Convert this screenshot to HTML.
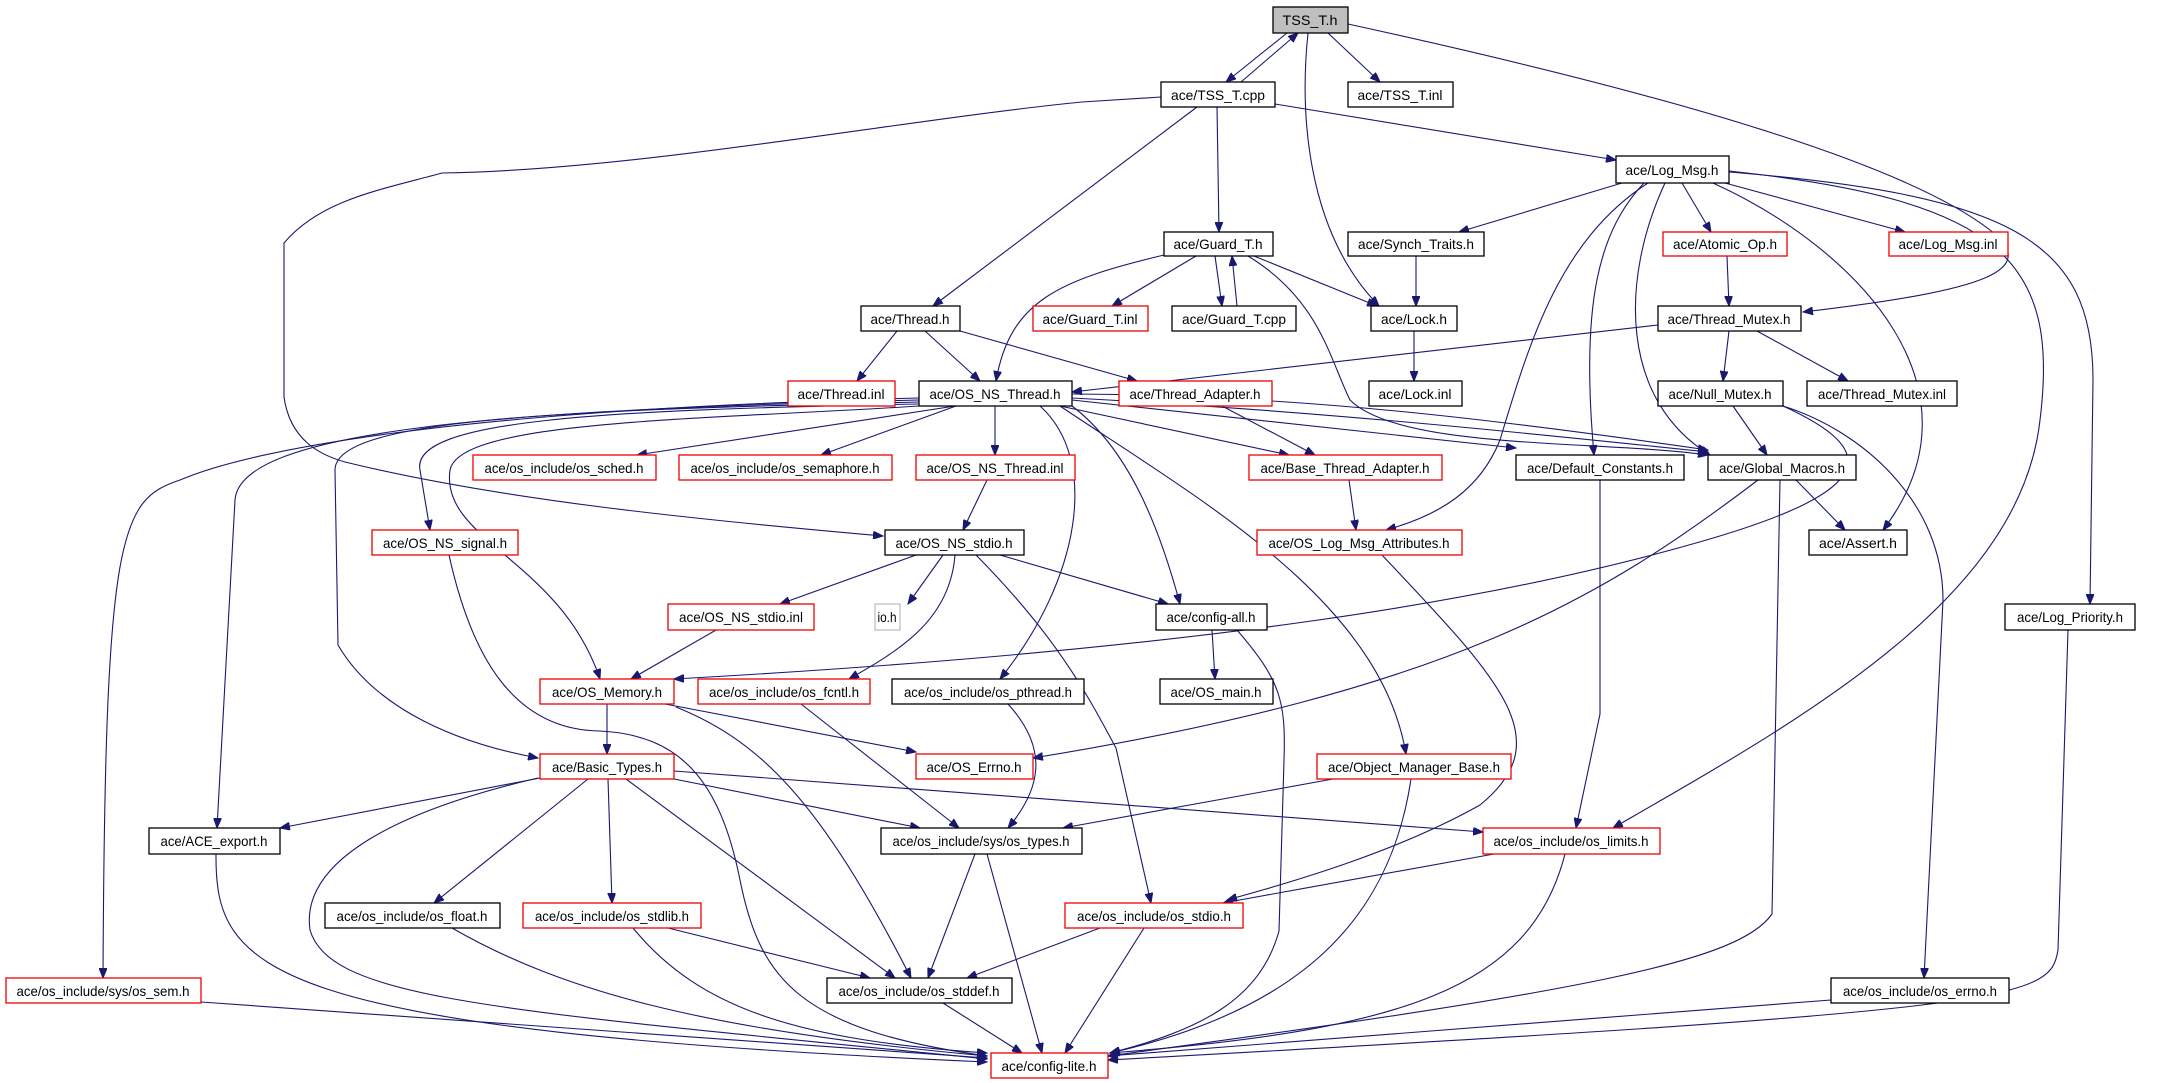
<!DOCTYPE html>
<html><head><meta charset="utf-8"><style>
html,body{margin:0;padding:0;background:#fff;}
svg{display:block;}
text{font-family:"Liberation Sans",sans-serif;font-size:14px;fill:#000;}
.e{fill:none;stroke:#191970;stroke-width:1.1;marker-end:url(#a);}
.b{fill:#fff;stroke:#000;stroke-width:1.3;}
.r{fill:#fff;stroke:#e00;stroke-width:1.3;}
</style></head><body>
<svg width="2164" height="1083" viewBox="0 0 2164 1083" xmlns="http://www.w3.org/2000/svg">
<defs><marker id="a" markerUnits="userSpaceOnUse" markerWidth="11" markerHeight="8" refX="10" refY="4" orient="auto"><path d="M0,0 L10,4 L0,8 z" fill="#191970" stroke="#191970"/></marker></defs>
<!-- edges -->
<path class="e" d="M1287,33 L1226,82"/>
<path class="e" d="M1241,82 L1298,33"/>
<path class="e" d="M1328,33 L1380,82"/>
<path class="e" d="M1308,33 C1300,110 1305,230 1379,306"/>
<path class="e" d="M1348,24 C1650,90 1900,160 1990,230 C2040,270 1990,290 1803,312"/>
<path class="e" d="M1161,97 L1082,102 C900,120 640,170 442,173 C380,190 320,200 284,243 L284,397 C290,440 320,455 345,462 C500,500 700,520 883,536"/>
<path class="e" d="M1197,107 L933,306"/>
<path class="e" d="M1217,107 L1219,232"/>
<path class="e" d="M1275,104 L1616,160"/>
<path class="e" d="M1622,183 L1459,232"/>
<path class="e" d="M1682,183 L1711,232"/>
<path class="e" d="M1725,183 L1905,232"/>
<path class="e" d="M1648,183 C1560,240 1530,340 1500,440 C1480,490 1440,515 1386,530"/>
<path class="e" d="M1644,183 C1600,230 1580,300 1594,455"/>
<path class="e" d="M1665,183 C1620,280 1620,400 1710,455"/>
<path class="e" d="M1713,183 C1860,250 1990,390 1883,530"/>
<path class="e" d="M1729,171 C2000,200 2060,260 2040,420 C2020,600 1800,720 1613,828"/>
<path class="e" d="M1729,172 C2010,195 2093,240 2093,380 L2090,604"/>
<path class="e" d="M1783,406 C1880,450 1880,490 1703,541 C1500,600 1200,650 674,679"/>
<path class="e" d="M1783,406 C1860,430 1943,500 1943,600 L1924,978"/>
<path class="e" d="M1758,480 C1600,600 1450,690 1033,758"/>
<path class="e" d="M1780,480 L1772,914 C1740,960 1600,990 1108,1056"/>
<path class="e" d="M1796,480 L1845,530"/>
<path class="e" d="M1658,325 L1072,392"/>
<path class="e" d="M1729,331 L1723,381"/>
<path class="e" d="M1757,331 L1848,381"/>
<path class="e" d="M1733,406 L1767,455"/>
<path class="e" d="M1727,256 L1729,306"/>
<path class="e" d="M1416,256 L1416,306"/>
<path class="e" d="M1414,331 L1414,381"/>
<path class="e" d="M1254,256 L1377,306"/>
<path class="e" d="M1196,256 L1112,306"/>
<path class="e" d="M1215,256 L1222,306"/>
<path class="e" d="M1237,306 L1232,256"/>
<path class="e" d="M1164,255 C1060,280 1010,300 996,381"/>
<path class="e" d="M1248,256 C1320,300 1330,360 1350,400 C1400,450 1600,440 1708,455"/>
<path class="e" d="M897,331 L857,381"/>
<path class="e" d="M925,331 L980,381"/>
<path class="e" d="M960,331 L1137,381"/>
<path class="e" d="M1222,406 L1315,455"/>
<path class="e" d="M1349,480 L1356,530"/>
<path class="e" d="M955,406 L637,455"/>
<path class="e" d="M956,406 L821,455"/>
<path class="e" d="M995,406 L995,455"/>
<path class="e" d="M1060,406 L1289,455"/>
<path class="e" d="M1072,400 L1516,448"/>
<path class="e" d="M1072,398 C1300,410 1500,430 1708,452"/>
<path class="e" d="M1072,394 C1300,395 1500,420 1708,450"/>
<path class="e" d="M1072,406 C1130,450 1160,530 1180,604"/>
<path class="e" d="M1060,406 C1200,500 1380,600 1406,754"/>
<path class="e" d="M1040,406 C1100,460 1080,580 1000,679"/>
<path class="e" d="M919,406 C700,420 460,420 450,470 C440,540 560,560 600,679"/>
<path class="e" d="M919,404 C600,410 410,420 420,470 L430,530"/>
<path class="e" d="M919,402 C550,410 335,420 335,470 L338,645 C370,700 440,740 538,758"/>
<path class="e" d="M919,400 C500,410 240,430 235,500 L217,828"/>
<path class="e" d="M919,398 C450,410 250,450 180,480 C120,500 105,530 103,978"/>
<path class="e" d="M987,480 L963,530"/>
<path class="e" d="M916,555 L780,604"/>
<path class="e" d="M943,555 L908,604"/>
<path class="e" d="M955,555 C950,620 900,650 849,679"/>
<path class="e" d="M1000,555 L1168,604"/>
<path class="e" d="M976,555 C1060,640 1090,700 1116,748 L1151,903"/>
<path class="e" d="M716,630 L631,679"/>
<path class="e" d="M449,555 C470,650 510,730 600,731 C680,735 720,780 740,880 C760,980 800,1030 987,1056"/>
<path class="e" d="M607,704 L607,754"/>
<path class="e" d="M665,704 L916,752"/>
<path class="e" d="M676,707 C760,741 820,800 911,978"/>
<path class="e" d="M801,704 L959,828"/>
<path class="e" d="M1008,704 C1050,750 1040,790 1008,828"/>
<path class="e" d="M540,778 L280,828"/>
<path class="e" d="M538,778 C400,810 300,860 310,930 C330,1000 500,1010 987,1059"/>
<path class="e" d="M588,779 L434,903"/>
<path class="e" d="M608,779 L612,903"/>
<path class="e" d="M626,779 L895,978"/>
<path class="e" d="M674,779 L920,828"/>
<path class="e" d="M674,771 L1483,832"/>
<path class="e" d="M1333,779 L1063,828"/>
<path class="e" d="M1411,779 C1390,920 1300,1010 1110,1053"/>
<path class="e" d="M1382,555 C1500,680 1560,740 1480,805 C1400,850 1300,880 1227,900"/>
<path class="e" d="M1494,854 L1223,903"/>
<path class="e" d="M1565,854 C1530,990 1400,1030 1110,1053"/>
<path class="e" d="M975,854 L928,978"/>
<path class="e" d="M987,854 L1042,1053"/>
<path class="e" d="M1100,928 L967,978"/>
<path class="e" d="M1144,928 L1065,1053"/>
<path class="e" d="M668,928 L870,978"/>
<path class="e" d="M633,928 C700,1010 800,1040 987,1053"/>
<path class="e" d="M452,928 C560,990 700,1030 987,1056"/>
<path class="e" d="M943,1003 L1022,1053"/>
<path class="e" d="M216,854 C215,970 260,1030 987,1062"/>
<path class="e" d="M201,1002 L987,1058"/>
<path class="e" d="M1831,1000 L1108,1056"/>
<path class="e" d="M2068,630 L2058,950 C2050,1000 2020,1010 1108,1060"/>
<path class="e" d="M1212,630 L1215,679"/>
<path class="e" d="M1237,630 C1280,680 1286,700 1284,760 L1279,931 C1260,1000 1200,1030 1110,1053"/>
<path class="e" d="M1600,480 L1600,714 L1576,828"/>
<!-- nodes -->
<rect x="1273" y="7" width="75" height="26" fill="#bfbfbf" stroke="#000" stroke-width="1.3"/><text x="1310" y="25" text-anchor="middle" textLength="55" lengthAdjust="spacingAndGlyphs">TSS_T.h</text>
<rect class="b" x="1161" y="82" width="114" height="25"/><text x="1218" y="100" text-anchor="middle" textLength="94" lengthAdjust="spacingAndGlyphs">ace/TSS_T.cpp</text>
<rect class="b" x="1348" y="82" width="105" height="25"/><text x="1400" y="100" text-anchor="middle" textLength="85" lengthAdjust="spacingAndGlyphs">ace/TSS_T.inl</text>
<rect class="b" x="1616" y="156" width="113" height="27"/><text x="1672" y="175" text-anchor="middle" textLength="93" lengthAdjust="spacingAndGlyphs">ace/Log_Msg.h</text>
<rect class="b" x="1164" y="232" width="109" height="24"/><text x="1218" y="249" text-anchor="middle" textLength="89" lengthAdjust="spacingAndGlyphs">ace/Guard_T.h</text>
<rect class="b" x="1348" y="232" width="136" height="24"/><text x="1416" y="249" text-anchor="middle" textLength="116" lengthAdjust="spacingAndGlyphs">ace/Synch_Traits.h</text>
<rect class="r" x="1663" y="232" width="124" height="24"/><text x="1725" y="249" text-anchor="middle" textLength="104" lengthAdjust="spacingAndGlyphs">ace/Atomic_Op.h</text>
<rect class="r" x="1889" y="232" width="119" height="24"/><text x="1948" y="249" text-anchor="middle" textLength="99" lengthAdjust="spacingAndGlyphs">ace/Log_Msg.inl</text>
<rect class="r" x="1033" y="306" width="115" height="25"/><text x="1090" y="324" text-anchor="middle" textLength="95" lengthAdjust="spacingAndGlyphs">ace/Guard_T.inl</text>
<rect class="b" x="1172" y="306" width="124" height="25"/><text x="1234" y="324" text-anchor="middle" textLength="104" lengthAdjust="spacingAndGlyphs">ace/Guard_T.cpp</text>
<rect class="b" x="1371" y="306" width="86" height="25"/><text x="1414" y="324" text-anchor="middle" textLength="66" lengthAdjust="spacingAndGlyphs">ace/Lock.h</text>
<rect class="b" x="1658" y="306" width="143" height="25"/><text x="1729" y="324" text-anchor="middle" textLength="123" lengthAdjust="spacingAndGlyphs">ace/Thread_Mutex.h</text>
<rect class="b" x="861" y="306" width="99" height="25"/><text x="910" y="324" text-anchor="middle" textLength="79" lengthAdjust="spacingAndGlyphs">ace/Thread.h</text>
<rect class="r" x="788" y="381" width="107" height="25"/><text x="841" y="399" text-anchor="middle" textLength="87" lengthAdjust="spacingAndGlyphs">ace/Thread.inl</text>
<rect class="b" x="919" y="381" width="153" height="25"/><text x="995" y="399" text-anchor="middle" textLength="131" lengthAdjust="spacingAndGlyphs">ace/OS_NS_Thread.h</text>
<rect class="r" x="1119" y="381" width="153" height="25"/><text x="1195" y="399" text-anchor="middle" textLength="131" lengthAdjust="spacingAndGlyphs">ace/Thread_Adapter.h</text>
<rect class="b" x="1369" y="381" width="93" height="25"/><text x="1415" y="399" text-anchor="middle" textLength="73" lengthAdjust="spacingAndGlyphs">ace/Lock.inl</text>
<rect class="b" x="1658" y="381" width="125" height="25"/><text x="1720" y="399" text-anchor="middle" textLength="103" lengthAdjust="spacingAndGlyphs">ace/Null_Mutex.h</text>
<rect class="b" x="1807" y="381" width="150" height="25"/><text x="1882" y="399" text-anchor="middle" textLength="128" lengthAdjust="spacingAndGlyphs">ace/Thread_Mutex.inl</text>
<rect class="r" x="473" y="455" width="183" height="25"/><text x="564" y="473" text-anchor="middle" textLength="159" lengthAdjust="spacingAndGlyphs">ace/os_include/os_sched.h</text>
<rect class="r" x="679" y="455" width="213" height="25"/><text x="785" y="473" text-anchor="middle" textLength="189" lengthAdjust="spacingAndGlyphs">ace/os_include/os_semaphore.h</text>
<rect class="r" x="916" y="455" width="159" height="25"/><text x="995" y="473" text-anchor="middle" textLength="137" lengthAdjust="spacingAndGlyphs">ace/OS_NS_Thread.inl</text>
<rect class="r" x="1249" y="455" width="193" height="25"/><text x="1345" y="473" text-anchor="middle" textLength="169" lengthAdjust="spacingAndGlyphs">ace/Base_Thread_Adapter.h</text>
<rect class="b" x="1516" y="455" width="168" height="25"/><text x="1600" y="473" text-anchor="middle" textLength="146" lengthAdjust="spacingAndGlyphs">ace/Default_Constants.h</text>
<rect class="b" x="1708" y="455" width="148" height="25"/><text x="1782" y="473" text-anchor="middle" textLength="126" lengthAdjust="spacingAndGlyphs">ace/Global_Macros.h</text>
<rect class="r" x="372" y="530" width="146" height="25"/><text x="445" y="548" text-anchor="middle" textLength="124" lengthAdjust="spacingAndGlyphs">ace/OS_NS_signal.h</text>
<rect class="b" x="885" y="530" width="139" height="25"/><text x="954" y="548" text-anchor="middle" textLength="117" lengthAdjust="spacingAndGlyphs">ace/OS_NS_stdio.h</text>
<rect class="r" x="1257" y="530" width="205" height="25"/><text x="1359" y="548" text-anchor="middle" textLength="181" lengthAdjust="spacingAndGlyphs">ace/OS_Log_Msg_Attributes.h</text>
<rect class="b" x="1809" y="530" width="98" height="25"/><text x="1858" y="548" text-anchor="middle" textLength="78" lengthAdjust="spacingAndGlyphs">ace/Assert.h</text>
<rect class="r" x="668" y="604" width="146" height="26"/><text x="741" y="622" text-anchor="middle" textLength="124" lengthAdjust="spacingAndGlyphs">ace/OS_NS_stdio.inl</text>
<rect x="875" y="604" width="25" height="26" fill="#fff" stroke="#bfbfbf" stroke-width="1.3"/><text x="887" y="622" text-anchor="middle" textLength="19" lengthAdjust="spacingAndGlyphs">io.h</text>
<rect class="b" x="1156" y="604" width="111" height="26"/><text x="1211" y="622" text-anchor="middle" textLength="89" lengthAdjust="spacingAndGlyphs">ace/config-all.h</text>
<rect class="b" x="2005" y="604" width="130" height="26"/><text x="2070" y="622" text-anchor="middle" textLength="106" lengthAdjust="spacingAndGlyphs">ace/Log_Priority.h</text>
<rect class="r" x="540" y="679" width="134" height="25"/><text x="607" y="697" text-anchor="middle" textLength="110" lengthAdjust="spacingAndGlyphs">ace/OS_Memory.h</text>
<rect class="r" x="698" y="679" width="172" height="25"/><text x="784" y="697" text-anchor="middle" textLength="150" lengthAdjust="spacingAndGlyphs">ace/os_include/os_fcntl.h</text>
<rect class="b" x="892" y="679" width="192" height="25"/><text x="988" y="697" text-anchor="middle" textLength="168" lengthAdjust="spacingAndGlyphs">ace/os_include/os_pthread.h</text>
<rect class="b" x="1160" y="679" width="113" height="25"/><text x="1216" y="697" text-anchor="middle" textLength="91" lengthAdjust="spacingAndGlyphs">ace/OS_main.h</text>
<rect class="r" x="540" y="754" width="134" height="25"/><text x="607" y="772" text-anchor="middle" textLength="110" lengthAdjust="spacingAndGlyphs">ace/Basic_Types.h</text>
<rect class="r" x="916" y="754" width="117" height="25"/><text x="974" y="772" text-anchor="middle" textLength="95" lengthAdjust="spacingAndGlyphs">ace/OS_Errno.h</text>
<rect class="r" x="1317" y="754" width="194" height="25"/><text x="1414" y="772" text-anchor="middle" textLength="172" lengthAdjust="spacingAndGlyphs">ace/Object_Manager_Base.h</text>
<rect class="b" x="149" y="828" width="131" height="26"/><text x="214" y="846" text-anchor="middle" textLength="107" lengthAdjust="spacingAndGlyphs">ace/ACE_export.h</text>
<rect class="b" x="881" y="828" width="201" height="26"/><text x="981" y="846" text-anchor="middle" textLength="177" lengthAdjust="spacingAndGlyphs">ace/os_include/sys/os_types.h</text>
<rect class="r" x="1483" y="828" width="177" height="26"/><text x="1571" y="846" text-anchor="middle" textLength="155" lengthAdjust="spacingAndGlyphs">ace/os_include/os_limits.h</text>
<rect class="b" x="325" y="903" width="175" height="25"/><text x="412" y="921" text-anchor="middle" textLength="151" lengthAdjust="spacingAndGlyphs">ace/os_include/os_float.h</text>
<rect class="r" x="523" y="903" width="178" height="25"/><text x="612" y="921" text-anchor="middle" textLength="154" lengthAdjust="spacingAndGlyphs">ace/os_include/os_stdlib.h</text>
<rect class="r" x="1065" y="903" width="178" height="25"/><text x="1154" y="921" text-anchor="middle" textLength="154" lengthAdjust="spacingAndGlyphs">ace/os_include/os_stdio.h</text>
<rect class="r" x="6" y="978" width="195" height="25"/><text x="103" y="996" text-anchor="middle" textLength="173" lengthAdjust="spacingAndGlyphs">ace/os_include/sys/os_sem.h</text>
<rect class="b" x="827" y="978" width="185" height="25"/><text x="919" y="996" text-anchor="middle" textLength="161" lengthAdjust="spacingAndGlyphs">ace/os_include/os_stddef.h</text>
<rect class="b" x="1831" y="978" width="178" height="25"/><text x="1920" y="996" text-anchor="middle" textLength="154" lengthAdjust="spacingAndGlyphs">ace/os_include/os_errno.h</text>
<rect class="r" x="991" y="1053" width="117" height="25"/><text x="1049" y="1071" text-anchor="middle" textLength="95" lengthAdjust="spacingAndGlyphs">ace/config-lite.h</text>
</svg>
</body></html>
